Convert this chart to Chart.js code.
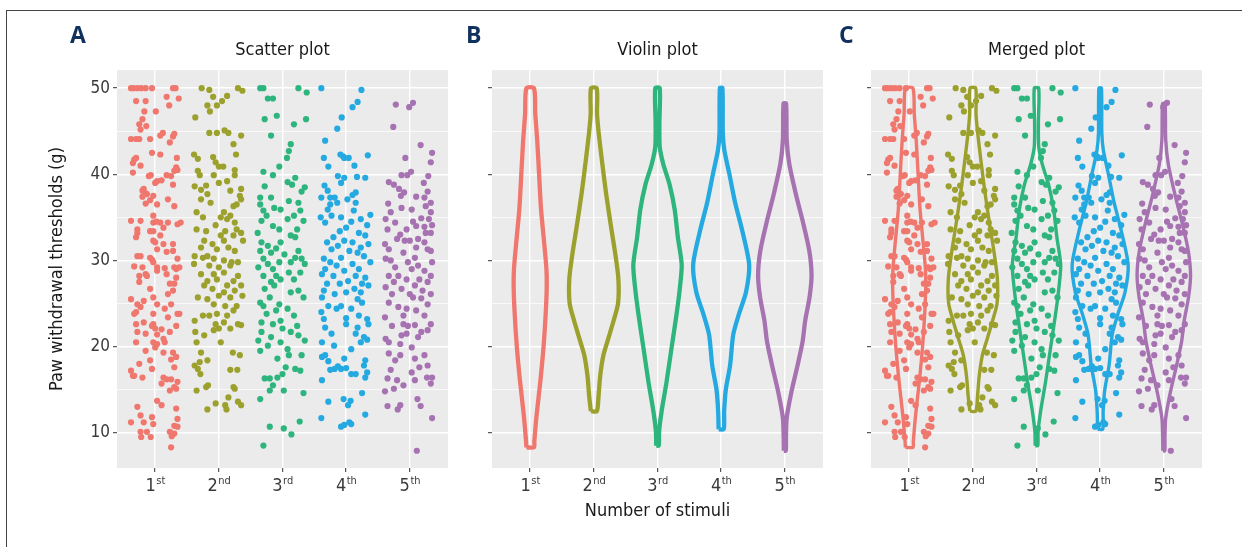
<!DOCTYPE html>
<html>
<head>
<title>Paw withdrawal thresholds by number of stimuli</title>
<script src="https://cdn.jsdelivr.net/npm/chart.js"></script>
<style>
  body { margin: 0; background: #fff; }
  #fig { position: relative; width: 1242px; height: 547px; overflow: hidden; }
  .frame { position: absolute; left: 6px; top: 10px; width: 1300px; height: 600px; border-top: 1px solid #444; border-left: 1px solid #444; }
  canvas { position: absolute; top: 0; }
  .letter { position: absolute; top: 18px; font: bold 23px 'Open Sans', 'DejaVu Sans', sans-serif; color: #10305e; }
</style>
</head>
<body>
<div id="fig">
  <div class="frame"></div>
  <canvas id="chartA" width="460" height="547" style="left:0"></canvas>
  <canvas id="chartB" width="380" height="547" style="left:460px"></canvas>
  <canvas id="chartC" width="402" height="547" style="left:840px"></canvas>
  <div class="letter" style="left:70px">A</div>
  <div class="letter" style="left:466px">B</div>
  <div class="letter" style="left:839px">C</div>
</div>
<script>
// categories and axis values
const catLabels = ['1', '2', '3', '4', '5'];
const catSuffix = ['st', 'nd', 'rd', 'th', 'th'];
const yGrid = [10, 15, 20, 25, 30, 35, 40, 45, 50];
const yMin = 5.9, yMax = 52.1;

// jittered observations: [jitter offset in category units, threshold (g)]
const stim1 = [
  [-0.38,50],[-0.34,50],[-0.28,50],[-0.22,50],[-0.15,50],[-0.05,50],[0.28,50],[0.32,50],
  [-0.3,48.5],[-0.15,48.5],[0.18,49],[0.37,48.8],[0.22,48],[-0.17,47.3],[0.01,47.3],
  [-0.2,46.4],[-0.25,45.8],[-0.14,45.6],[-0.23,45.2],[0.08,44.5],[0.12,44.8],[0.28,44.4],[0.3,44.7],
  [-0.38,44.1],[-0.3,44.1],[-0.25,44.1],[-0.08,44.1],[0.23,43.7],[-0.05,42.5],[0.08,42.3],
  [-0.33,41.7],[-0.3,41.9],[-0.35,41.3],[-0.23,41],[0.34,41.9],[0.33,40.8],[0.3,40.4],[0.35,40.5],
  [-0.35,40.2],[-0.1,39.8],[-0.07,39.9],[0.18,39.9],[0.25,39.8],[0.03,39.2],[0.1,39.3],[0,39],[0.28,38.8],
  [-0.18,38.3],[-0.2,38.1],[-0.15,37.8],[-0.2,37.4],[-0.03,37.5],[-0.13,37.7],[0.2,37.1],[-0.08,37],
  [-0.15,36.6],[0.03,36.5],[0.3,36.3],[-0.03,35.2],[-0.38,34.6],[-0.23,34.6],[-0.03,34.4],[0.02,34.5],
  [0.08,34.4],[0.2,34.4],[0.4,34.4],[0.35,34.2],[0.13,33.8],[-0.28,33.6],[-0.08,33.4],[-0.03,33.4],
  [-0.28,33.2],[0.08,32.9],[-0.3,32.7],[-0.03,32.3],[0,32.1],[0.13,31.9],[0.28,31.9],[0.03,31.3],
  [0.28,31.1],[0.18,31],[-0.28,30.5],[-0.23,30.5],[-0.08,30.3],[-0.05,30.1],[0.35,30.2],[-0.03,29.8],
  [-0.33,29.3],[-0.2,29.2],[0.03,29.2],[0.15,29.1],[0.3,29.2],[0.33,29],[0.38,29.2],[0.03,28.8],
  [-0.15,28.4],[0.18,28.4],[-0.25,28.2],[-0.13,28.2],[0.33,28],[-0.25,27.5],[0.23,27.3],[0.3,27.3],
  [-0.08,26.7],[0.28,26.5],[0.2,26.1],[-0.03,25.7],[-0.38,25.5],[-0.18,25.3],[-0.28,24.9],[0.03,24.9],
  [0.25,24.9],[-0.23,24.6],[0.15,24.4],[0.35,23.8],[0.38,23.8],[-0.3,24],[-0.33,23.8],[-0.03,23.8],
  [0.2,23.4],[-0.18,22.8],[-0.3,22.6],[-0.03,22.6],[-0.05,22.4],[0.33,22.4],[0,22.1],[0.1,22],
  [-0.28,21.7],[0.23,21.7],[-0.15,21.5],[0.03,21.4],[0.13,20.9],[-0.3,20.5],[-0.03,20.5],[0.15,20.5],
  [0.03,20.3],[0,19.9],[-0.15,19.5],[0.13,19.3],[0.28,19.3],[0.33,18.8],[0.25,18.5],[-0.08,18.4],
  [-0.25,18],[-0.05,17.4],[0.3,17.6],[-0.38,17.2],[-0.35,16.6],[-0.33,16.6],[-0.2,16.4],[0.13,16.4],
  [0.18,16.2],[0.25,16.2],[0.35,15.9],[0.1,15.7],[0.3,15.3],[0.33,15.1],[0.23,14.9],[0.03,13.7],
  [0.1,13.2],[-0.28,13],[0.33,12.8],[-0.23,12],[-0.05,11.8],[0.35,11.6],[-0.38,11.2],[-0.18,11.2],
  [-0.03,11],[0.3,10.8],[0.35,10.7],[-0.23,10.1],[-0.13,10.1],[0.23,10.1],[0.3,9.9],
  [-0.22,9.5],[-0.07,9.5],[0.26,9.6],[0.25,8.3]
];
const stim2 = [
  [-0.27,50],[-0.15,49.8],[0.3,50],[0.37,49.7],[-0.09,49],[0.13,49.1],[0.05,48.5],[-0.18,48],[-0.03,48],
  [-0.14,47.3],[-0.37,46.6],[-0.15,44.8],[-0.03,44.8],[0.09,45.1],[0.15,44.8],[0.35,44.5],[0.23,43.5],
  [-0.39,42.3],[-0.33,41.8],[-0.09,42],[0.27,42.3],[-0.05,41.4],[0,40.9],[0.07,40.9],[-0.33,40.4],
  [0.25,40.5],[-0.3,39.9],[-0.08,39.9],[0.25,39.9],[0,39],[0.13,39.2],[-0.38,38.6],[-0.2,38.7],
  [-0.28,38.2],[0.18,38.1],[0.35,38.3],[-0.18,37.7],[0.33,37.5],[-0.28,37.1],[-0.13,36.7],[0.35,37.1],
  [0.23,36.3],[0.28,36.5],[-0.35,35.6],[0.08,35.6],[-0.25,35],[0.18,35.2],[0.03,35],[-0.05,34.1],
  [0.13,34.8],[0.25,34.4],[-0.35,33.6],[-0.2,33.4],[0.1,33.4],[0.28,33.6],[0.35,33.2],[0.03,32.9],
  [0.23,32.9],[-0.23,32.3],[-0.1,31.9],[0.38,32.3],[0.08,32.3],[-0.28,31.5],[0.15,31.5],[0.25,31.1],
  [-0.03,31.3],[-0.38,30.5],[-0.25,30.3],[-0.18,30.5],[-0.08,30.2],[0.08,30],[0.2,29.8],[0.3,29.8],
  [-0.39,29.6],[-0.15,29.4],[0,29.2],[0.18,29.4],[-0.28,28.4],[-0.08,28.4],[0.08,28.6],[0.3,28.2],
  [-0.18,27.6],[-0.03,27.8],[0.23,27.6],[-0.23,27.1],[0.13,27.1],[0.35,27.1],[-0.1,26.7],[0.08,26.3],
  [0.25,26.5],[-0.33,25.7],[-0.18,25.5],[0,25.9],[0.18,25.7],[0.37,25.9],[-0.08,24.9],[0.1,24.7],
  [0.28,24.7],[-0.25,23.6],[-0.15,23.6],[-0.03,23.8],[0.13,23.6],[0.23,24.2],[-0.38,23],[-0.05,22.6],
  [0.08,22.8],[0.35,22.5],[0.3,22.6],[-0.08,21.9],[0,22.1],[0.18,22.1],[-0.37,21.7],[-0.23,21.3],
  [0.03,20.5],[-0.35,20.5],[-0.28,19.3],[0.22,19.3],[0.33,19],[-0.18,18.4],[-0.3,18.2],[-0.38,17.8],
  [-0.33,17.4],[-0.29,16.8],[0.18,17.3],[0.29,17.3],[-0.35,14.9],[-0.2,15.3],[-0.17,15.5],[0.23,15.3],
  [0.25,15.1],[0.15,14.1],[-0.05,13.4],[0.1,13.2],[0.3,13.6],[0.35,13.2],[-0.18,12.7],[0.12,12.7]
];
const stim3 = [
  [-0.35,50],[-0.3,50],[0.25,50],[0.38,49.5],[-0.23,48.8],[-0.15,48.8],[-0.28,46.4],[-0.09,46.8],
  [0.37,46.4],[0.18,45.8],[-0.18,44.5],[0.13,43.5],[0.1,42.7],[0.07,41.9],[-0.05,40.9],[-0.3,40.3],
  [-0.15,39.9],[0.2,39.6],[0.08,39.1],[0.15,38.8],[-0.28,38.6],[0.35,38.5],[-0.35,37.3],[-0.18,37.3],
  [0.3,38],[0.1,36.9],[0.25,36.7],[-0.35,36.5],[-0.3,35.8],[-0.13,36.1],[-0.03,35.9],[0.28,35.8],
  [0.18,35.2],[-0.25,35.2],[0.08,34.8],[0.33,34.6],[-0.33,34.6],[-0.15,34],[0.23,33.6],[-0.39,33.2],
  [-0.05,33.6],[0.13,32.9],[0.2,32.7],[-0.33,32.1],[-0.23,31.7],[-0.03,32.1],[-0.1,31.4],[0.25,31.1],
  [-0.35,31.1],[-0.18,30.9],[0.03,30.7],[-0.3,30.2],[0.2,30.3],[0.3,30.2],[-0.38,29.2],[-0.23,29.6],
  [-0.15,29],[-0.05,29.8],[0.13,29.8],[0.35,29.6],[0.1,28.6],[0.28,28.6],[-0.3,28.2],[-0.1,28.2],
  [-0.18,27.5],[-0.03,27.8],[0.18,27.8],[-0.28,26.7],[-0.13,27.1],[0.13,26.3],[0.25,26.5],[0.33,25.7],
  [-0.2,25.7],[-0.35,25.1],[-0.3,24.7],[-0.05,24.9],[0.08,24.4],[-0.1,24.2],[-0.25,23.8],[0.18,23.6],
  [-0.33,22.8],[-0.15,22.6],[-0.03,23],[0.23,22.4],[0,22.1],[0.13,21.7],[0.25,21.3],[-0.33,21.7],
  [-0.18,21.1],[-0.38,20.7],[0.35,20.7],[-0.03,20.5],[-0.23,20.1],[-0.35,19.5],[0.08,19.7],[0.1,19],
  [-0.08,18.6],[0.3,19],[0.05,17.6],[0.2,17.4],[0,16.8],[0.28,17.2],[-0.28,16.3],[-0.2,16.3],
  [-0.08,16.4],[-0.15,15.5],[-0.2,14.9],[0.02,14.9],[0.33,14.6],[-0.35,13.9],
  [0.27,11.3],[-0.2,10.7],[0.02,10.5],[0.14,9.8],[-0.3,8.5]
];
const stim4 = [
  [-0.39,50],[0.24,49.8],[0.18,48.4],[0.1,47.8],[-0.07,46.6],[-0.14,45.3],[-0.33,43.9],[-0.35,41.9],
  [-0.09,42.3],[-0.05,42.1],[-0.03,41.9],[0.04,41.9],[0.34,42.2],[-0.28,40.9],[0.13,41],[-0.13,39.8],
  [-0.03,39.6],[0.17,39.7],[0.3,39.6],[-0.08,39],[-0.34,38.7],[-0.29,38.1],[-0.39,37.3],[-0.25,37.3],
  [-0.18,37.3],[0.15,37.9],[0.1,37.6],[0.02,37.1],[0.15,36.7],[-0.25,36.5],[-0.14,36.7],[-0.29,35.9],
  [0.12,35.8],[0.38,35.3],[-0.4,35],[-0.33,34.4],[-0.23,35.2],[-0.08,35],[0.23,34.8],[0.08,34.5],
  [0.33,34.1],[0,33.8],[-0.1,33.4],[0.2,33.2],[-0.2,32.7],[0.3,32.9],[-0.3,32.1],[-0.03,32.3],
  [0.1,32.1],[-0.13,31.7],[0.23,31.5],[0.35,31.9],[-0.23,31.3],[0.05,31.1],[0.18,30.9],[-0.35,30.2],
  [-0.08,30.3],[0.28,30.5],[0.38,29.8],[-0.25,29.8],[-0.15,29.4],[0.1,29.6],[-0.33,29],[-0.03,28.8],
  [0.2,29],[-0.38,28.4],[-0.2,28.2],[0.15,28.2],[0.3,28],[0.03,27.6],[-0.3,27.3],[-0.1,27.3],
  [0.25,27.3],[0.35,27.1],[-0.35,26.5],[0.13,26.7],[-0.18,26.1],[0,26.3],[0.23,26.3],[-0.38,25.7],
  [0.18,25.5],[-0.28,24.7],[-0.08,24.7],[0.25,25.1],[-0.15,24.4],[0.08,24.4],[-0.39,24],[0.2,23.6],
  [0,23.3],[0.33,23.2],[-0.35,23.2],[0,22.6],[0.35,22.6],[-0.33,22.2],[0.18,22.2],[-0.23,21.5],
  [0.15,21.5],[0.28,21.1],[0.33,20.8],[-0.38,20.5],[0.23,20.5],[0.08,19.7],[-0.19,20.1],[-0.38,18.8],
  [-0.33,19],[-0.03,18.6],[-0.28,18.3],[0.3,18.4],[0.28,17.8],[-0.13,17.7],[-0.18,17.4],[-0.08,17.4],
  [0,17.5],[-0.25,17.3],[0.08,16.8],[0.15,16.8],[0.33,17],[0.3,16.4],[-0.38,16.1],[0.25,14.6],
  [-0.04,13.9],[0.07,13.7],[-0.28,13.6],[0.03,13.2],[0.3,12.1],[-0.39,11.7],[-0.08,10.7],[-0.03,10.9],
  [0.05,11.2],[0.08,11]
];
const stim5 = [
  [-0.22,48.1],[-0.01,47.8],[0.05,48.3],[-0.26,45.5],[0.17,43.4],[0.35,42.5],[-0.07,41.9],[0.33,41.4],
  [-0.13,39.9],[-0.04,39.9],[0.02,40.3],[0.29,39.8],[-0.33,39.1],[-0.25,38.8],[-0.17,38.3],[0.22,39],
  [-0.09,37.9],[-0.14,37.5],[0.28,38],[0.1,37.4],[0.23,37.3],[-0.34,36.6],[0.33,36.7],[-0.3,35.6],
  [-0.13,36.1],[0.03,35.9],[0.25,36.3],[0.33,35.6],[-0.38,34.8],[-0.23,34.4],[0.05,34.5],[0.18,34.9],
  [0.3,34.8],[-0.35,33.6],[-0.05,33.6],[0.1,34],[0.23,33.9],[0.35,34.1],[-0.15,33],[0.25,33.2],
  [0.33,33.2],[-0.39,31.9],[-0.2,32.5],[-0.08,32.3],[0,32.3],[0.13,32.5],[0.23,32.1],[-0.33,31.3],
  [0.1,31.5],[0.28,31.3],[-0.1,30.9],[0.33,31.1],[-0.38,30.2],[-0.3,30],[0.08,30.3],[-0.03,29.8],
  [0.35,29.8],[-0.23,29.2],[0.13,29.4],[0.03,29],[0.23,28.8],[-0.33,28.2],[-0.18,28.2],[0.33,28.2],
  [-0.05,27.8],[0.15,27.8],[-0.25,27.5],[0.28,27.5],[-0.38,26.9],[0.08,27.1],[-0.13,26.7],[0.2,26.5],
  [0,26.1],[-0.28,26.1],[0.33,26.1],[0.05,25.7],[0.18,25.6],[-0.33,25.1],[-0.18,24.6],[0.28,24.9],
  [-0.05,24.4],[0.1,24.2],[-0.39,23.4],[-0.1,23.6],[0.23,23.6],[0.33,22.6],[-0.28,22.4],[-0.1,22.6],
  [-0.03,22.4],[0.08,22.5],[0.18,21.7],[0.28,21.9],[-0.38,20.9],[-0.33,20.5],[-0.13,21.3],[-0.05,21.5],
  [0.13,21.1],[-0.15,20.3],[0.03,19.9],[-0.33,19.2],[-0.23,18.4],[-0.15,19],[0.08,18.6],[0.23,19],
  [0.28,17.8],[0.15,17.6],[-0.3,17.3],[0.03,17],[-0.35,16.3],[-0.2,16.1],[0.08,16.1],[0.27,16.4],
  [0.35,16.4],[0.33,15.7],[-0.1,15.5],[-0.25,15.1],[-0.39,14.8],[0.12,13.9],[0.17,13.1],[-0.35,13.1],
  [-0.15,13.2],[-0.19,12.7],[0.35,11.7],[0.11,7.9]
];

// violin outlines: density half-width (category units) at each threshold level
const violinLevels1 = [8.3, 9, 12, 16, 20, 24, 27, 29, 32, 36, 40, 44, 47, 50];
const violinHalf1   = [0.06, 0.065, 0.1, 0.16, 0.21, 0.245, 0.26, 0.255, 0.22, 0.17, 0.14, 0.11, 0.08, 0.06];
const violinLevels2 = [12.5, 14.2, 16.6, 19, 21, 23, 25, 27.9, 31.1, 33.9, 37.9, 42, 44.8, 47, 50];
const violinHalf2   = [0.047, 0.073, 0.1, 0.15, 0.23, 0.31, 0.38, 0.385, 0.33, 0.27, 0.19, 0.12, 0.076, 0.05, 0.045];
const violinLevels3 = [8.5, 10.1, 12.5, 15.8, 19.8, 23.8, 26.7, 29.5, 32.7, 35.9, 38.8, 41.2, 43.2, 46, 50];
const violinHalf3   = [0.02, 0.025, 0.065, 0.14, 0.22, 0.3, 0.35, 0.38, 0.32, 0.27, 0.19, 0.09, 0.035, 0.03, 0.035];
const violinLevels4 = [10.4, 12.5, 15, 17.8, 21.4, 23.8, 26.3, 29.5, 33.5, 36.7, 40, 42.8, 44.8, 50];
const violinHalf4   = [0.04, 0.047, 0.073, 0.14, 0.19, 0.28, 0.39, 0.44, 0.33, 0.22, 0.13, 0.05, 0.026, 0.02];
const violinLevels5 = [7.9, 9.5, 11.7, 14.6, 17.8, 20.6, 23, 25.8, 28.3, 31.1, 34.3, 37.5, 41.2, 44, 48.2];
const violinHalf5   = [0.015, 0.018, 0.03, 0.1, 0.2, 0.28, 0.32, 0.39, 0.42, 0.385, 0.29, 0.18, 0.07, 0.03, 0.02];

const groupColors = ['#ef776e', '#9ca02d', '#2db57d', '#24a9e0', '#a672b1'];
const FONT = "'Liberation Sans Narrow', 'DejaVu Sans Condensed', 'Open Sans', sans-serif";

const scatterGroups = [stim1, stim2, stim3, stim4, stim5];
const violinLevels = [violinLevels1, violinLevels2, violinLevels3, violinLevels4, violinLevels5];
const violinHalf = [violinHalf1, violinHalf2, violinHalf3, violinHalf4, violinHalf5];

Chart.defaults.font.family = FONT;

function pointsFor(g) {
  return scatterGroups[g].map(p => ({ x: g + 1 + p[0], y: p[1] }));
}

function outlineFor(g) {
  const c = g + 1;
  const left = violinLevels[g].map((v, i) => ({ x: c - violinHalf[g][i], y: v }));
  const right = violinLevels[g].map((v, i) => ({ x: c + violinHalf[g][i], y: v })).reverse();
  return left.concat(right, [left[0]]);
}

// grey panel background
const panelBg = {
  id: 'panelBg',
  beforeDraw(chart) {
    const a = chart.chartArea, ctx = chart.ctx;
    ctx.save();
    ctx.fillStyle = '#ebebeb';
    ctx.fillRect(a.left, a.top, a.right - a.left, a.bottom - a.top);
    ctx.restore();
  }
};

// x tick labels with superscript ordinal suffix
const stimLabels = {
  id: 'stimLabels',
  afterDraw(chart) {
    const xs = chart.scales.x, ctx = chart.ctx;
    ctx.save();
    ctx.fillStyle = '#3a3a3a';
    ctx.textBaseline = 'alphabetic';
    catLabels.forEach((lab, i) => {
      ctx.font = '18px ' + FONT;
      const w1 = ctx.measureText(lab).width;
      ctx.font = '11px ' + FONT;
      const w2 = ctx.measureText(catSuffix[i]).width;
      const x0 = xs.getPixelForValue(i + 1) - (w1 + w2) / 2;
      const base = xs.top + 23;
      ctx.font = '18px ' + FONT;
      ctx.fillText(lab, x0, base);
      ctx.font = '11px ' + FONT;
      ctx.fillText(catSuffix[i], x0 + w1 + 0.5, base - 7);
    });
    ctx.restore();
  }
};

function makeChart(id, o) {
  const datasets = [];
  if (o.points) {
    for (let g = 0; g < 5; g++) {
      datasets.push({
        data: pointsFor(g),
        backgroundColor: groupColors[g],
        borderWidth: 0,
        pointRadius: 3.1,
        pointHoverRadius: 3.1
      });
    }
  }
  if (o.violins) {
    for (let g = 0; g < 5; g++) {
      datasets.push({
        data: outlineFor(g),
        showLine: true,
        borderColor: groupColors[g],
        borderWidth: o.violinWidth,
        borderJoinStyle: 'round',
        pointRadius: 0,
        tension: 0.25,
        fill: false
      });
    }
  }
  return new Chart(document.getElementById(id), {
    type: 'scatter',
    data: { datasets: datasets },
    options: {
      responsive: false,
      animation: false,
      layout: { padding: { left: o.padLeft, right: o.padRight, top: 0, bottom: 21 } },
      plugins: {
        legend: { display: false },
        tooltip: { enabled: false },
        title: {
          display: true, text: o.title, color: '#1a1a1a', fullSize: false,
          font: { size: 18, weight: 'normal' }, padding: { top: 40, bottom: 8.5 }
        }
      },
      scales: {
        x: {
          type: 'linear', min: 0.4, max: 5.6,
          afterBuildTicks: s => { s.ticks = catLabels.map((l, i) => ({ value: i + 1 })); },
          afterFit: s => { s.height = 58; },
          ticks: { display: false },
          grid: { color: '#ffffff', lineWidth: 1.4, tickLength: 4, tickColor: '#333', tickWidth: 1 },
          border: { display: false },
          title: {
            display: !!o.xTitle, text: o.xTitle || '', color: '#1a1a1a',
            font: { size: 18 }, padding: { top: 4, bottom: 4 }
          }
        },
        y: {
          min: yMin, max: yMax,
          afterBuildTicks: s => { s.ticks = yGrid.map(v => ({ value: v })); },
          afterFit: s => { s.width = o.yWidth; },
          ticks: {
            display: o.yLabels, color: '#3a3a3a', font: { size: 17 }, padding: 3,
            callback: v => (v % 10 === 0 ? String(v) : '')
          },
          grid: {
            color: '#ffffff',
            lineWidth: c => (c.tick && c.tick.value % 10 === 0 ? 1.4 : 0.7),
            tickLength: 4,
            tickColor: c => (c.tick && c.tick.value % 10 === 0 ? '#333' : 'rgba(0,0,0,0)'),
            tickWidth: 1
          },
          border: { display: false },
          title: {
            display: !!o.yTitle, text: o.yTitle || '', color: '#1a1a1a',
            font: { size: 18 }, padding: { top: 4, bottom: 4 }
          }
        }
      }
    },
    plugins: [panelBg, stimLabels]
  });
}

makeChart('chartA', {
  title: 'Scatter plot', points: true, violins: false,
  padLeft: 43, padRight: 12, yWidth: 74, yLabels: true,
  yTitle: 'Paw withdrawal thresholds (g)'
});
makeChart('chartB', {
  title: 'Violin plot', points: false, violins: true, violinWidth: 4.3,
  padLeft: 26, padRight: 17, yWidth: 6, yLabels: false,
  xTitle: 'Number of stimuli'
});
makeChart('chartC', {
  title: 'Merged plot', points: true, violins: true, violinWidth: 3.4,
  padLeft: 25, padRight: 40, yWidth: 6, yLabels: false
});
</script>
</body>
</html>
